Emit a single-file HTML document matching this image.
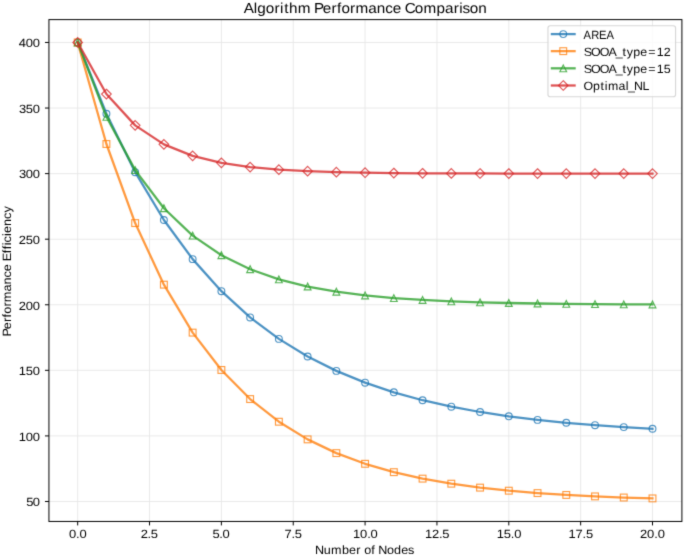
<!DOCTYPE html>
<html><head><meta charset="utf-8"><title>Algorithm Performance Comparison</title>
<style>html,body{margin:0;padding:0;background:#fff;}svg{display:block;}text{text-rendering:geometricPrecision;}</style></head>
<body><svg width="685" height="557" viewBox="0 0 685 557"><defs><filter id="b" x="0" y="0" width="685" height="557" filterUnits="userSpaceOnUse" color-interpolation-filters="sRGB"><feConvolveMatrix order="3" kernelMatrix="1 6 1 6 36 6 1 6 1" edgeMode="duplicate"/></filter></defs><g filter="url(#b)"><rect width="685" height="557" fill="#fff"/>
<path d="M77.68 19.6V521.45M149.53 19.6V521.45M221.39 19.6V521.45M293.24 19.6V521.45M365.09 19.6V521.45M436.94 19.6V521.45M508.8 19.6V521.45M580.65 19.6V521.45M652.5 19.6V521.45M48.94 501.49H681.9M48.94 435.92H681.9M48.94 370.34H681.9M48.94 304.77H681.9M48.94 239.19H681.9M48.94 173.61H681.9M48.94 108.04H681.9M48.94 42.46H681.9" stroke="#e7e7e7" stroke-width="0.906" fill="none"/>
<polyline points="77.68,42.46 106.42,113.78 135.16,172.18 163.9,219.98 192.64,259.13 221.39,291.17 250.13,317.41 278.87,338.89 307.61,356.48 336.35,370.88 365.09,382.67 393.83,392.32 422.57,400.22 451.31,406.69 480.06,411.99 508.8,416.33 537.54,419.88 566.28,422.79 595.02,425.17 623.76,427.12 652.5,428.71" fill="none" stroke="#1f77b4" stroke-width="2.266" stroke-opacity="0.8" stroke-linejoin="round" stroke-linecap="square"/>
<g fill="none" stroke="#1f77b4" stroke-width="1.133" stroke-opacity="0.8" stroke-linejoin="miter"><circle cx="77.68" cy="42.46" r="3.4"/><circle cx="106.42" cy="113.78" r="3.4"/><circle cx="135.16" cy="172.18" r="3.4"/><circle cx="163.9" cy="219.98" r="3.4"/><circle cx="192.64" cy="259.13" r="3.4"/><circle cx="221.39" cy="291.17" r="3.4"/><circle cx="250.13" cy="317.41" r="3.4"/><circle cx="278.87" cy="338.89" r="3.4"/><circle cx="307.61" cy="356.48" r="3.4"/><circle cx="336.35" cy="370.88" r="3.4"/><circle cx="365.09" cy="382.67" r="3.4"/><circle cx="393.83" cy="392.32" r="3.4"/><circle cx="422.57" cy="400.22" r="3.4"/><circle cx="451.31" cy="406.69" r="3.4"/><circle cx="480.06" cy="411.99" r="3.4"/><circle cx="508.8" cy="416.33" r="3.4"/><circle cx="537.54" cy="419.88" r="3.4"/><circle cx="566.28" cy="422.79" r="3.4"/><circle cx="595.02" cy="425.17" r="3.4"/><circle cx="623.76" cy="427.12" r="3.4"/><circle cx="652.5" cy="428.71" r="3.4"/></g>
<polyline points="77.68,42.46 106.42,144 135.16,223.08 163.9,284.66 192.64,332.63 221.39,369.98 250.13,399.07 278.87,421.73 307.61,439.37 336.35,453.11 365.09,463.81 393.83,472.15 422.57,478.64 451.31,483.69 480.06,487.63 508.8,490.7 537.54,493.09 566.28,494.95 595.02,496.39 623.76,497.52 652.5,498.4" fill="none" stroke="#ff7f0e" stroke-width="2.266" stroke-opacity="0.8" stroke-linejoin="round" stroke-linecap="square"/>
<g fill="none" stroke="#ff7f0e" stroke-width="1.133" stroke-opacity="0.8" stroke-linejoin="miter"><rect x="74.28" y="39.06" width="6.8" height="6.8"/><rect x="103.02" y="140.6" width="6.8" height="6.8"/><rect x="131.76" y="219.68" width="6.8" height="6.8"/><rect x="160.5" y="281.26" width="6.8" height="6.8"/><rect x="189.24" y="329.23" width="6.8" height="6.8"/><rect x="217.99" y="366.58" width="6.8" height="6.8"/><rect x="246.73" y="395.67" width="6.8" height="6.8"/><rect x="275.47" y="418.33" width="6.8" height="6.8"/><rect x="304.21" y="435.97" width="6.8" height="6.8"/><rect x="332.95" y="449.71" width="6.8" height="6.8"/><rect x="361.69" y="460.41" width="6.8" height="6.8"/><rect x="390.43" y="468.75" width="6.8" height="6.8"/><rect x="419.17" y="475.24" width="6.8" height="6.8"/><rect x="447.91" y="480.29" width="6.8" height="6.8"/><rect x="476.66" y="484.23" width="6.8" height="6.8"/><rect x="505.4" y="487.3" width="6.8" height="6.8"/><rect x="534.14" y="489.69" width="6.8" height="6.8"/><rect x="562.88" y="491.55" width="6.8" height="6.8"/><rect x="591.62" y="492.99" width="6.8" height="6.8"/><rect x="620.36" y="494.12" width="6.8" height="6.8"/><rect x="649.1" y="495" width="6.8" height="6.8"/></g>
<polyline points="77.68,42.46 106.42,116.82 135.16,170.09 163.9,208.27 192.64,235.62 221.39,255.22 250.13,269.27 278.87,279.33 307.61,286.54 336.35,291.71 365.09,295.41 393.83,298.06 422.57,299.96 451.31,301.32 480.06,302.3 508.8,303 537.54,303.5 566.28,303.86 595.02,304.12 623.76,304.3 652.5,304.43" fill="none" stroke="#2ca02c" stroke-width="2.266" stroke-opacity="0.8" stroke-linejoin="round" stroke-linecap="square"/>
<g fill="none" stroke="#2ca02c" stroke-width="1.133" stroke-opacity="0.8" stroke-linejoin="miter"><path d="M77.68 39.06L74.28 45.86L81.08 45.86Z"/><path d="M106.42 113.42L103.02 120.22L109.82 120.22Z"/><path d="M135.16 166.69L131.76 173.49L138.56 173.49Z"/><path d="M163.9 204.87L160.5 211.67L167.3 211.67Z"/><path d="M192.64 232.22L189.24 239.02L196.04 239.02Z"/><path d="M221.39 251.82L217.99 258.62L224.79 258.62Z"/><path d="M250.13 265.87L246.73 272.67L253.53 272.67Z"/><path d="M278.87 275.93L275.47 282.73L282.27 282.73Z"/><path d="M307.61 283.14L304.21 289.94L311.01 289.94Z"/><path d="M336.35 288.31L332.95 295.11L339.75 295.11Z"/><path d="M365.09 292.01L361.69 298.81L368.49 298.81Z"/><path d="M393.83 294.66L390.43 301.46L397.23 301.46Z"/><path d="M422.57 296.56L419.17 303.36L425.97 303.36Z"/><path d="M451.31 297.92L447.91 304.72L454.71 304.72Z"/><path d="M480.06 298.9L476.66 305.7L483.46 305.7Z"/><path d="M508.8 299.6L505.4 306.4L512.2 306.4Z"/><path d="M537.54 300.1L534.14 306.9L540.94 306.9Z"/><path d="M566.28 300.46L562.88 307.26L569.68 307.26Z"/><path d="M595.02 300.72L591.62 307.52L598.42 307.52Z"/><path d="M623.76 300.9L620.36 307.7L627.16 307.7Z"/><path d="M652.5 301.03L649.1 307.83L655.9 307.83Z"/></g>
<polyline points="77.68,42.46 106.42,94.07 135.16,125.37 163.9,144.35 192.64,155.86 221.39,162.85 250.13,167.08 278.87,169.65 307.61,171.21 336.35,172.16 365.09,172.73 393.83,173.08 422.57,173.29 451.31,173.42 480.06,173.49 508.8,173.54 537.54,173.57 566.28,173.59 595.02,173.6 623.76,173.6 652.5,173.61" fill="none" stroke="#d62728" stroke-width="2.266" stroke-opacity="0.8" stroke-linejoin="round" stroke-linecap="square"/>
<g fill="none" stroke="#d62728" stroke-width="1.133" stroke-opacity="0.8" stroke-linejoin="miter"><path d="M77.68 37.65L82.49 42.46L77.68 47.27L72.87 42.46Z"/><path d="M106.42 89.26L111.23 94.07L106.42 98.87L101.61 94.07Z"/><path d="M135.16 120.56L139.97 125.37L135.16 130.17L130.35 125.37Z"/><path d="M163.9 139.54L168.71 144.35L163.9 149.16L159.09 144.35Z"/><path d="M192.64 151.06L197.45 155.86L192.64 160.67L187.84 155.86Z"/><path d="M221.39 158.04L226.19 162.85L221.39 167.66L216.58 162.85Z"/><path d="M250.13 162.28L254.93 167.08L250.13 171.89L245.32 167.08Z"/><path d="M278.87 164.84L283.68 169.65L278.87 174.46L274.06 169.65Z"/><path d="M307.61 166.4L312.42 171.21L307.61 176.02L302.8 171.21Z"/><path d="M336.35 167.35L341.16 172.16L336.35 176.97L331.54 172.16Z"/><path d="M365.09 167.92L369.9 172.73L365.09 177.54L360.28 172.73Z"/><path d="M393.83 168.27L398.64 173.08L393.83 177.89L389.02 173.08Z"/><path d="M422.57 168.48L427.38 173.29L422.57 178.1L417.76 173.29Z"/><path d="M451.31 168.61L456.12 173.42L451.31 178.22L446.51 173.42Z"/><path d="M480.06 168.69L484.86 173.49L480.06 178.3L475.25 173.49Z"/><path d="M508.8 168.73L513.6 173.54L508.8 178.35L503.99 173.54Z"/><path d="M537.54 168.76L542.35 173.57L537.54 178.38L532.73 173.57Z"/><path d="M566.28 168.78L571.09 173.59L566.28 178.4L561.47 173.59Z"/><path d="M595.02 168.79L599.83 173.6L595.02 178.41L590.21 173.6Z"/><path d="M623.76 168.8L628.57 173.6L623.76 178.41L618.95 173.6Z"/><path d="M652.5 168.8L657.31 173.61L652.5 178.42L647.69 173.61Z"/></g>
<rect x="48.94" y="19.6" width="632.96" height="501.85" fill="none" stroke="#000" stroke-width="1.0" stroke-linejoin="miter"/>
<path d="M77.68 521.45v3.97M149.53 521.45v3.97M221.39 521.45v3.97M293.24 521.45v3.97M365.09 521.45v3.97M436.94 521.45v3.97M508.8 521.45v3.97M580.65 521.45v3.97M652.5 521.45v3.97M48.94 501.49h-3.97M48.94 435.92h-3.97M48.94 370.34h-3.97M48.94 304.77h-3.97M48.94 239.19h-3.97M48.94 173.61h-3.97M48.94 108.04h-3.97M48.94 42.46h-3.97" stroke="#000" stroke-width="1.0" fill="none"/>
<g font-family="'Liberation Sans', sans-serif" fill="#000"><text transform="translate(243.69,12.83) scale(1.0628,1)" font-size="14.39" x="0.07 9.43 12.85 20.82 28.97 34.17 38.05 42.6 50.88 63.15 66.23 74.34 82.52 87.79 91.95 100.09 105.1 117.25 125.22 133.19 140.23 148.2 151.49 161.06 169.2 181.48 189.46 197.61 202.82 205.92 212.76 220.72">Algorithm Performance Comparison</text><text transform="translate(314.85,554.12) scale(1.0514,1)" font-size="11.99" x="0.07 8.49 15.45 25.76 32.47 39.32 43.57 46.89 53.74 57.33 60.38 68.68 75.37 82.08 88.52">Number of Nodes</text><text transform="translate(11.25,336.54) rotate(-90) scale(1.0587,1)" font-size="11.99" x="0.07 6.87 13.68 18.08 21.54 28.33 32.46 42.59 49.23 55.87 61.74 68.39 71.11 78.69 82.44 86.13 88.87 94.95 97.7 104.35 111 117.08">Performance Efficiency</text><text transform="translate(68.85,538.34) scale(1.0797,1)" font-size="11.99" x="0.22 6.7 9.82">0.0</text><text transform="translate(140.48,538.34) scale(1.0797,1)" font-size="11.99" x="0.16 6.58 9.64">2.5</text><text transform="translate(212.03,538.34) scale(1.0797,1)" font-size="11.99" x="0.33 6.75 9.82">5.0</text><text transform="translate(284.32,538.34) scale(1.0797,1)" font-size="11.99" x="0.24 6.62 9.64">7.5</text><text transform="translate(352.77,538.34) scale(1.0797,1)" font-size="11.99" x="0.24 6.75 13.32 16.53">10.0</text><text transform="translate(424.69,538.34) scale(1.0797,1)" font-size="11.99" x="0.24 6.68 13.19 16.34">12.5</text><text transform="translate(496.45,538.34) scale(1.0797,1)" font-size="11.99" x="0.24 6.75 13.32 16.53">15.0</text><text transform="translate(568.33,538.34) scale(1.0797,1)" font-size="11.99" x="0.24 6.68 13.19 16.34">17.5</text><text transform="translate(639.8,538.34) scale(1.0797,1)" font-size="11.99" x="0.16 6.71 13.3 16.53">20.0</text><text transform="translate(25.79,505.77) scale(1.0796,1)" font-size="11.99" x="0.33 6.48">50</text><text transform="translate(18.58,440.63) scale(1.0796,1)" font-size="11.99" x="0.24 6.71 13.18">100</text><text transform="translate(18.58,374.69) scale(1.0796,1)" font-size="11.99" x="0.24 6.71 13.18">150</text><text transform="translate(18.58,309.55) scale(1.0796,1)" font-size="11.99" x="0.16 6.67 13.18">200</text><text transform="translate(18.58,243.6) scale(1.0796,1)" font-size="11.99" x="0.16 6.67 13.18">250</text><text transform="translate(18.58,178.47) scale(1.0796,1)" font-size="11.99" x="0.34 6.76 13.18">300</text><text transform="translate(18.58,112.52) scale(1.0796,1)" font-size="11.99" x="0.34 6.76 13.18">350</text><text transform="translate(18.58,47.39) scale(1.0796,1)" font-size="11.99" x="0.24 6.71 13.18">400</text></g>
<rect x="547.98" y="25.77" width="127.59" height="71" rx="2.26" fill="#fff" fill-opacity="0.8" stroke="#d6d6d6" stroke-width="1.133"/>
<path d="M551.92 34.1H574.58" stroke="#1f77b4" stroke-width="2.266" stroke-opacity="0.8" stroke-linecap="square" fill="none"/>
<g fill="none" stroke="#1f77b4" stroke-width="1.133" stroke-opacity="0.8"><circle cx="563.25" cy="34.1" r="3.4"/></g>
<path d="M551.92 51.15H574.58" stroke="#ff7f0e" stroke-width="2.266" stroke-opacity="0.8" stroke-linecap="square" fill="none"/>
<g fill="none" stroke="#ff7f0e" stroke-width="1.133" stroke-opacity="0.8"><rect x="559.85" y="47.75" width="6.8" height="6.8"/></g>
<path d="M551.92 68.32H574.58" stroke="#2ca02c" stroke-width="2.266" stroke-opacity="0.8" stroke-linecap="square" fill="none"/>
<g fill="none" stroke="#2ca02c" stroke-width="1.133" stroke-opacity="0.8"><path d="M563.25 64.92L559.85 71.72L566.65 71.72Z"/></g>
<path d="M551.92 85.49H574.58" stroke="#d62728" stroke-width="2.266" stroke-opacity="0.8" stroke-linecap="square" fill="none"/>
<g fill="none" stroke="#d62728" stroke-width="1.133" stroke-opacity="0.8"><path d="M563.25 80.68L568.06 85.49L563.25 90.29L558.44 85.49Z"/></g>
<g font-family="'Liberation Sans', sans-serif" fill="#000"><text transform="translate(583.5,39.07) scale(0.9339,1)" font-size="11.99" x="0.07 8.19 16.65 24.7">AREA</text><text transform="translate(583.5,56.12) scale(1.0384,1)" font-size="11.99" x="0.17 7.19 15.69 24.07 31.13 37.62 41.6 47.89 54.64 62.32 70.45 77.33">SOOA_type=12</text><text transform="translate(583.5,73.22) scale(1.0384,1)" font-size="11.99" x="0.17 7.19 15.7 24.08 31.15 37.64 41.62 47.91 54.67 62.35 70.49 77.36">SOOA_type=15</text><text transform="translate(583.5,90.03) scale(1.0299,1)" font-size="11.99" x="0.05 9.19 16.5 20.52 23.71 34.09 41 43.26 49.11 57.28">Optimal_NL</text></g>
</g></svg></body></html>
